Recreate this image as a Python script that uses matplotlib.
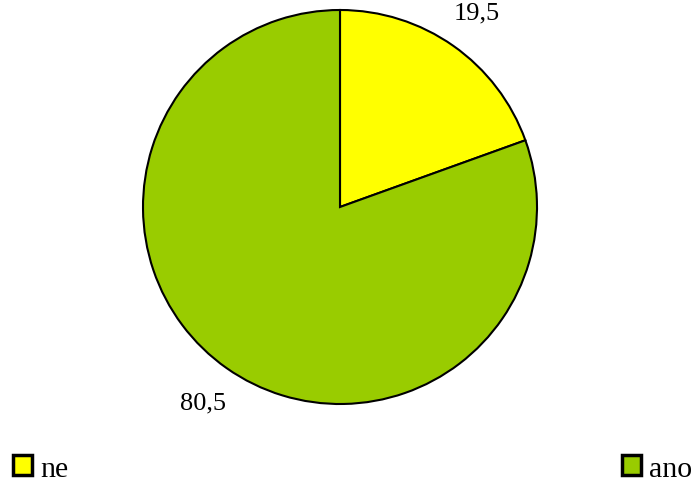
import matplotlib.pyplot as plt
from matplotlib.patches import Rectangle

# Data
categories = ["ne", "ano"]
values = [19.5, 80.5]
colors = ["#FFFF00", "#99CC00"]

W, H = 697, 485
fig = plt.figure(figsize=(W / 100, H / 100), dpi=100)
plt.rcParams['font.family'] = ['Liberation Serif', 'DejaVu Serif']

# pie axes placed in pixels: centre (340, 208), radius 197
cx, cy, r = 340, 208, 197
ax = fig.add_axes([(cx - r) / W, (H - cy - r) / H, 2 * r / W, 2 * r / H])

wedges, texts = ax.pie(values, colors=colors, startangle=90, counterclock=False,
                       labels=[f"{v:.1f}".replace(".", ",") for v in values],
                       labeldistance=1.21,
                       wedgeprops=dict(edgecolor="black", linewidth=1.5),
                       textprops=dict(fontsize=19))
for t in texts:
    t.set_horizontalalignment("center")
    t.set_verticalalignment("center")
ax.set_xlim(-1, 1)
ax.set_ylim(-1, 1)

# legend: one entry at the far left, one at the far right
legend_x = [13, 622]
for name, col, x in zip(categories, colors, legend_x):
    fig.patches.append(Rectangle((x / W, (H - 476) / H), 19 / W, 20 / H,
                                 facecolor=col, edgecolor="black", linewidth=2.5,
                                 transform=fig.transFigure))
    fig.text((x + 27) / W, (H - 477) / H, name, fontsize=21.5, va="baseline", ha="left")

fig.savefig("out.png", dpi=100)
